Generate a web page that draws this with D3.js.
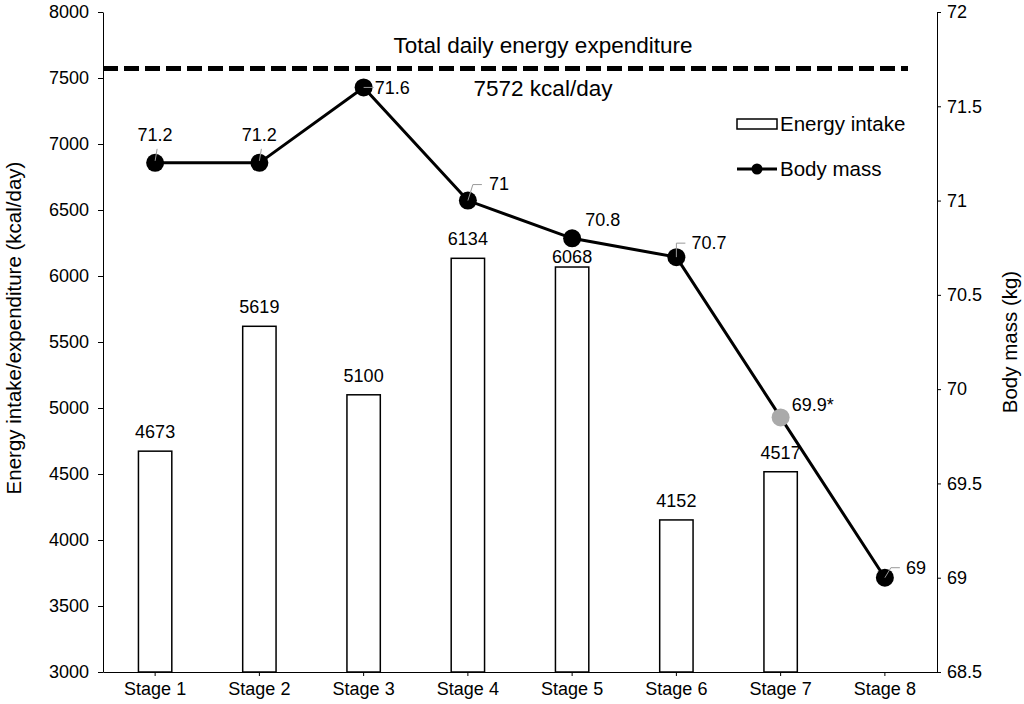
<!DOCTYPE html>
<html lang="en">
  <head>
    <meta charset="utf-8">
    <title>Energy intake and body mass</title>
    <script src="https://cdn.jsdelivr.net/npm/d3@7"></script>
    <style>
      body, html { margin: 0; padding: 0; background: #fff; }
      svg { display: block; font-family: "Liberation Sans", Arial, sans-serif; }
      .axis path, .axis line { stroke: #000; stroke-width: 1; }
      .axis text { font-size: 18px; fill: #000; font-family: "Liberation Sans", Arial, sans-serif; }
    </style>
  </head>
  <body>
    <svg width="1024" height="704"></svg>
  </body>
  <script>
    // data
    const stages = ['Stage 1', 'Stage 2', 'Stage 3', 'Stage 4', 'Stage 5', 'Stage 6', 'Stage 7', 'Stage 8']
    const intake = [4673, 5619, 5100, 6134, 6068, 4152, 4517, null]
    const bodyMass = [71.2, 71.2, 71.6, 71.0, 70.8, 70.7, 69.85, 69.0]
    const massLabels = ['71.2', '71.2', '71.6', '71', '70.8', '70.7', '69.9*', '69']
    const estimated = [false, false, false, false, false, false, true, false]
    const expenditure = 7572
    const leftTicks = [3000, 3500, 4000, 4500, 5000, 5500, 6000, 6500, 7000, 7500, 8000]
    const rightTicks = [68.5, 69, 69.5, 70, 70.5, 71, 71.5, 72]

    const svg = d3.select('svg')
    const plotLeft = 103, plotRight = 937, plotTop = 12, plotBottom = 672

    const x = d3.scaleBand().domain(stages).range([plotLeft, plotRight])
    const y = d3.scaleLinear().domain([3000, 8000]).range([plotBottom, plotTop])
    const y2 = d3.scaleLinear().domain([68.5, 72]).range([plotBottom, plotTop])
    const barW = x.bandwidth() * 0.32
    const cx = d => x(d) + x.bandwidth() / 2

    // axes
    svg.append('g').attr('class', 'axis')
      .attr('transform', 'translate(' + plotLeft + ',0)')
      .call(d3.axisLeft(y).tickValues(leftTicks).tickSize(5).tickSizeOuter(0).tickPadding(9)
        .tickFormat(d3.format('d')))
    svg.append('g').attr('class', 'axis')
      .attr('transform', 'translate(' + plotRight + ',0)')
      .call(d3.axisRight(y2).tickValues(rightTicks).tickSize(4).tickSizeOuter(0).tickPadding(6)
        .tickFormat(d3.format('')))
    svg.append('g').attr('class', 'axis')
      .attr('transform', 'translate(0,' + plotBottom + ')')
      .call(d3.axisBottom(x).tickSize(4).tickSizeOuter(0).tickPadding(6))

    // axis titles
    svg.append('text')
      .attr('transform', 'translate(21,328) rotate(-90)')
      .attr('text-anchor', 'middle')
      .attr('font-size', 20.5)
      .text('Energy intake/expenditure (kcal/day)')
    svg.append('text')
      .attr('transform', 'translate(1017,342) rotate(-90)')
      .attr('text-anchor', 'middle')
      .attr('font-size', 20.5)
      .text('Body mass (kg)')

    // bars
    const barData = stages.map((s, i) => ({ s: s, v: intake[i] })).filter(d => d.v !== null)
    svg.selectAll('rect.bar').data(barData).enter().append('rect')
      .attr('class', 'bar')
      .attr('x', d => cx(d.s) - barW / 2)
      .attr('y', d => y(d.v))
      .attr('width', barW)
      .attr('height', d => plotBottom - y(d.v))
      .attr('fill', '#fff')
      .attr('stroke', '#000')
      .attr('stroke-width', 1.5)
    // gap between bar top and its label (stage 5 sits lower to clear the line)
    const barLabelGap = [13, 13, 13, 13, 4, 13, 13]
    svg.selectAll('text.barlab').data(barData).enter().append('text')
      .attr('class', 'barlab')
      .attr('x', d => cx(d.s))
      .attr('y', (d, i) => y(d.v) - barLabelGap[i])
      .attr('text-anchor', 'middle')
      .attr('font-size', 18)
      .text(d => d.v)

    // total expenditure line
    svg.append('line')
      .attr('x1', plotLeft).attr('x2', 908)
      .attr('y1', y(expenditure)).attr('y2', y(expenditure))
      .attr('stroke', '#000')
      .attr('stroke-width', 5)
      .attr('stroke-dasharray', '15,6')
    svg.append('text')
      .attr('x', 543).attr('y', y(expenditure) - 15)
      .attr('text-anchor', 'middle').attr('font-size', 22.5)
      .text('Total daily energy expenditure')
    svg.append('text')
      .attr('x', 543).attr('y', y(expenditure) + 28)
      .attr('text-anchor', 'middle').attr('font-size', 22.5)
      .text(expenditure + ' kcal/day')

    // body mass line
    const pts = stages.map((s, i) => ({ s: s, v: bodyMass[i], lab: massLabels[i], est: estimated[i] }))
    svg.append('path')
      .datum(pts)
      .attr('fill', 'none')
      .attr('stroke', '#000')
      .attr('stroke-width', 3)
      .attr('d', d3.line().x(d => cx(d.s)).y(d => y2(d.v)))

    // label placement relative to each point: text offset, anchor, leader polyline
    const labelPos = [
      { dx: 0, dy: -22, anchor: 'middle', lead: [[0, -2], [2, -14]] },
      { dx: 0, dy: -22, anchor: 'middle', lead: [[0, -2], [2, -14]] },
      { dx: 11, dy: 7, anchor: 'start', lead: [[0, 0], [10, 0]] },
      { dx: 21, dy: -11, anchor: 'start', lead: [[0, 0], [5, -16], [14, -16]] },
      { dx: 13, dy: -12, anchor: 'start', lead: null },
      { dx: 15, dy: -8, anchor: 'start', lead: [[0, 0], [0, -14], [9, -14]] },
      { dx: 11, dy: -6, anchor: 'start', lead: null },
      { dx: 21, dy: -4, anchor: 'start', lead: [[0, 0], [6, -10], [15, -10]] }
    ]

    pts.forEach((d, i) => {
      const px = cx(d.s), py = y2(d.v), p = labelPos[i]
      svg.append('circle')
        .attr('cx', px).attr('cy', py).attr('r', 9)
        .attr('fill', d.est ? '#aaa' : '#000')
      if (p.lead) {
        svg.append('polyline')
          .attr('points', p.lead.map(q => (px + q[0]) + ',' + (py + q[1])).join(' '))
          .attr('fill', 'none')
          .attr('stroke', '#999')
          .attr('stroke-width', 1)
      }
      svg.append('text')
        .attr('x', px + p.dx).attr('y', py + p.dy)
        .attr('text-anchor', p.anchor)
        .attr('font-size', 18)
        .text(d.lab)
    })

    // legend
    const lg = svg.append('g').attr('transform', 'translate(737,124)')
    lg.append('rect')
      .attr('x', 0).attr('y', -5).attr('width', 40).attr('height', 10)
      .attr('fill', '#fff').attr('stroke', '#000').attr('stroke-width', 1.5)
    lg.append('text').attr('x', 43).attr('y', 7).attr('font-size', 20.5).text('Energy intake')
    lg.append('line')
      .attr('x1', 0).attr('x2', 40).attr('y1', 45).attr('y2', 45)
      .attr('stroke', '#000').attr('stroke-width', 3)
    lg.append('circle').attr('cx', 20).attr('cy', 45).attr('r', 5.5).attr('fill', '#000')
    lg.append('text').attr('x', 43).attr('y', 52).attr('font-size', 20.5).text('Body mass')
  </script>
</html>
